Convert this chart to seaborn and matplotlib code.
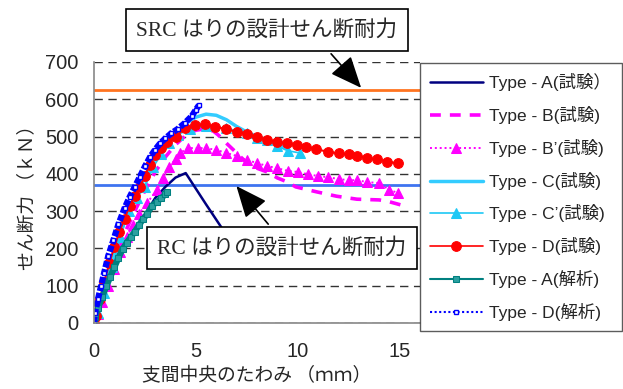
import matplotlib
matplotlib.use("Agg")
import matplotlib.pyplot as plt
import seaborn as sns
import pandas as pd

# ── data (deflection mm, shear kN) ───────────────────────────────────────
A_EXP_X = [0, 0.3, 0.6, 1.0, 1.5, 2.0, 2.5, 3.0, 3.5, 4.0, 4.5, 5.0, 5.5, 6.0, 6.5, 7.0]
A_EXP_Y = [0, 45, 95, 150, 205, 240, 290, 335, 365, 390, 402, 360, 318, 277, 236, 195]

B_EXP_X = [0, 0.3, 0.7, 1.0, 1.5, 2.0, 2.5, 3.0, 3.5, 4.0, 4.5, 5.0, 5.4, 5.85, 6.1, 6.5,
           7.0, 7.5, 8.0, 8.5, 9.0, 9.5, 9.9, 10.9, 11.9, 12.9, 14.0, 14.5, 15.1]
B_EXP_Y = [0, 45, 115, 165, 240, 300, 355, 405, 445, 478, 503, 517, 520, 515, 504, 482,
           456, 429, 415, 405, 389, 378, 365, 352, 340, 332, 330, 325, 316]

B2_EXP_X = [0, 0.2, 0.4, 0.7, 1.0, 1.3, 1.6, 1.9, 2.2, 2.6, 3.1, 3.4, 3.7, 4.0, 4.2, 4.6,
            5.1, 5.5, 6.0, 6.5, 7.0, 7.5, 8.0, 8.5, 9.0, 9.5, 10.0, 10.5, 11.0, 11.5,
            12.0, 12.5, 12.9, 13.4, 14.0, 14.5, 14.9]
B2_EXP_Y = [0, 25, 55, 100, 145, 190, 230, 262, 292, 322, 357, 390, 418, 440, 455, 469,
            469, 469, 464, 456, 448, 437, 429, 421, 415, 408, 405, 399, 394, 391,
            386, 383, 383, 378, 375, 357, 349]

C_EXP_X = [0, 0.2, 0.5, 0.9, 1.3, 1.7, 2.1, 2.5, 3.0, 3.5, 4.0, 4.5, 5.0, 5.5, 6.0, 6.5,
           7.0, 7.5, 8.0, 8.5, 9.0, 9.5]
C_EXP_Y = [0, 30, 90, 165, 240, 305, 350, 390, 440, 480, 510, 535, 552, 560, 557, 545,
           527, 512, 500, 490, 478, 468]

C2_EXP_X = [0, 0.2, 0.5, 0.9, 1.3, 1.7, 2.1, 2.5, 2.9, 3.3, 3.7, 4.1, 4.7, 5.5, 6.5, 7.5,
            8.0, 8.5, 9.0, 9.5, 10.1]
C2_EXP_Y = [0, 27, 80, 150, 230, 300, 335, 365, 418, 452, 482, 505, 520, 528, 522, 509,
            496, 491, 474, 462, 456]

D_EXP_X = [0, 0.1, 0.3, 0.5, 0.75, 1.0, 1.25, 1.5, 1.75, 2.0, 2.25, 2.5, 2.75, 3.0, 3.3,
           3.6, 4.0, 4.46, 4.95, 5.44, 5.93, 6.5, 7.0, 7.5, 8.0, 8.5, 8.97, 9.46, 9.95,
           10.4, 10.9, 11.5, 12.0, 12.5, 12.9, 13.4, 13.9, 14.4, 14.9]
D_EXP_Y = [0, 20, 65, 110, 160, 205, 245, 280, 315, 340, 365, 395, 425, 450, 470,
           485, 500, 522, 530, 533, 526, 520, 512, 507, 498, 491, 486, 482, 477,
           472, 466, 459, 455, 452, 448, 442, 439, 432, 429]

A_ANA_X = [0, 0.05, 0.2, 0.4, 0.6, 0.8, 1.0, 1.2, 1.4, 1.6, 1.8, 2.0, 2.2, 2.4, 2.6,
           2.85, 3.1, 3.3, 3.5, 3.6]
A_ANA_Y = [0, 16, 40, 70, 98, 124, 150, 175, 198, 215, 230, 245, 262, 278, 292,
           315, 325, 335, 345, 350]

D_ANA_X = [0, 0.05, 0.2, 0.35, 0.5, 0.7, 0.95, 1.2, 1.5, 1.75, 2.0, 2.25, 2.5, 2.75,
           3.0, 3.25, 3.5, 3.8, 4.1, 4.45, 4.8, 5.0, 5.15]
D_ANA_Y = [0, 27, 65, 100, 135, 180, 222, 265, 308, 338, 365, 392, 420, 445,
           465, 482, 495, 509, 520, 536, 555, 572, 584]

SRC_CAPACITY = 625   # kN
RC_CAPACITY = 370    # kN

LABELS = ["Type - A(試験）", "Type - B(試験)", "Type - B’(試験)", "Type - C(試験)",
          "Type - C’(試験)", "Type - D(試験)", "Type - A(解析)", "Type - D(解析)"]

sns.set_theme(style="white")
plt.rcParams["font.family"] = ["Liberation Sans", "Noto Sans CJK JP"]

fig = plt.figure(figsize=(6.23, 3.89), dpi=100)
ax = fig.add_axes([0.1509, 0.1697, 0.5233, 0.671])

series = [
    (A_EXP_X, A_EXP_Y, dict(color="#000080", lw=1.8)),
    (B_EXP_X, B_EXP_Y, dict(color="#FF00FF", lw=2.6, linestyle=(0, (3, 2.5)))),
    (B2_EXP_X, B2_EXP_Y, dict(color="#FF00FF", lw=1.4, linestyle=(0, (1, 1.5)),
                              marker="^", ms=7, mec="#FF00FF")),
    (C_EXP_X, C_EXP_Y, dict(color="#33CCFF", lw=2.5)),
    (C2_EXP_X, C2_EXP_Y, dict(color="#1EC8F5", lw=1.2, marker="^", ms=7, mec="#1EC8F5")),
    (D_EXP_X, D_EXP_Y, dict(color="#FF0000", lw=1.5, marker="o", ms=7, mec="#FF0000")),
    (A_ANA_X, A_ANA_Y, dict(color="#008080", lw=4.5, marker="s", ms=4,
                            mec="#008080", mfc="#2AA0A0")),
    (D_ANA_X, D_ANA_Y, dict(color="#0000FF", lw=4.5, linestyle=(0, (1, 0.3)),
                            marker="s", ms=3, mew=1.0, mec="#0000FF", mfc="white")),
]

for (xs, ys, style), label in zip(series, LABELS):
    df = pd.DataFrame({"x": xs, "y": ys})
    sns.lineplot(data=df, x="x", y="y", ax=ax, sort=False, estimator=None,
                 label=label, **style)

ax.axhline(SRC_CAPACITY, color="#FF7420", lw=2, zorder=1)
ax.axhline(RC_CAPACITY, color="#3F74F0", lw=2, zorder=1)

ax.set_xlim(0, 16)
ax.set_ylim(0, 700)
ax.set_xticks([0, 5, 10, 15])
ax.set_yticks(range(0, 701, 100))
ax.yaxis.grid(True, linestyle=(0, (6, 4)), color="#333333", lw=1)
ax.set_axisbelow(True)
ax.tick_params(axis="x", direction="in", length=5, pad=14, labelsize=14.5, color="#555555")
ax.tick_params(axis="y", length=0, pad=11, labelsize=14.5)
for side in ["top", "right"]:
    ax.spines[side].set_visible(False)
for side in ["left", "bottom"]:
    ax.spines[side].set_color("#888888")
    ax.spines[side].set_linewidth(1.2)

ax.set_xlabel("支間中央のたわみ （ｍｍ）", fontsize=13.5, family="Noto Sans CJK JP", labelpad=3)
ax.set_ylabel("せん断力 （ｋＮ）", fontsize=13.5, family="Noto Sans CJK JP", labelpad=6)

# callouts for the design shear capacities
box = dict(boxstyle="square,pad=0.5", fc="white", ec="black", lw=1.2)
arrow = dict(arrowstyle="-|>,head_length=0.7,head_width=0.3", color="black",
             lw=1.2, mutation_scale=28)
ax.annotate("SRC はりの設計せん断耐力", xy=(13.2, SRC_CAPACITY), xycoords="data",
            xytext=(267 / 623, 1 - 30 / 389), textcoords="figure fraction",
            ha="center", va="center", fontsize=15.5,
            family=["Liberation Serif", "Noto Sans CJK JP"], bbox=box,
            arrowprops=dict(arrow, relpos=(0.7, 0.0)), zorder=10)
ax.annotate("RC はりの設計せん断耐力", xy=(6.9, RC_CAPACITY + 3), xycoords="data",
            xytext=(282 / 623, 1 - 248 / 389), textcoords="figure fraction",
            ha="center", va="center", fontsize=15.5,
            family=["Liberation Serif", "Noto Sans CJK JP"], bbox=box,
            arrowprops=dict(arrow, relpos=(0.49, 1.0)), zorder=10)

handles, labels = ax.get_legend_handles_labels()
ax.get_legend().remove()
leg = fig.legend(handles, labels, loc="upper left",
                 bbox_to_anchor=(420 / 623, 1 - 63 / 389), fontsize=12.5,
                 handlelength=3.0, labelspacing=0.85, borderpad=0.6,
                 handletextpad=0.4, numpoints=1, frameon=True, fancybox=False,
                 borderaxespad=0)
leg.get_frame().set_edgecolor("#333333")
leg.get_frame().set_linewidth(1.0)
# legend keys use the thin line styles of the original chart
leg_lines = leg.get_lines()
leg_lines[5].set_linewidth(1.2)
leg_lines[6].set_linewidth(1.5)
leg_lines[7].set_linewidth(1.5)
leg_lines[7].set_linestyle((0, (1, 1.2)))

fig.savefig("out.png", dpi=100)
